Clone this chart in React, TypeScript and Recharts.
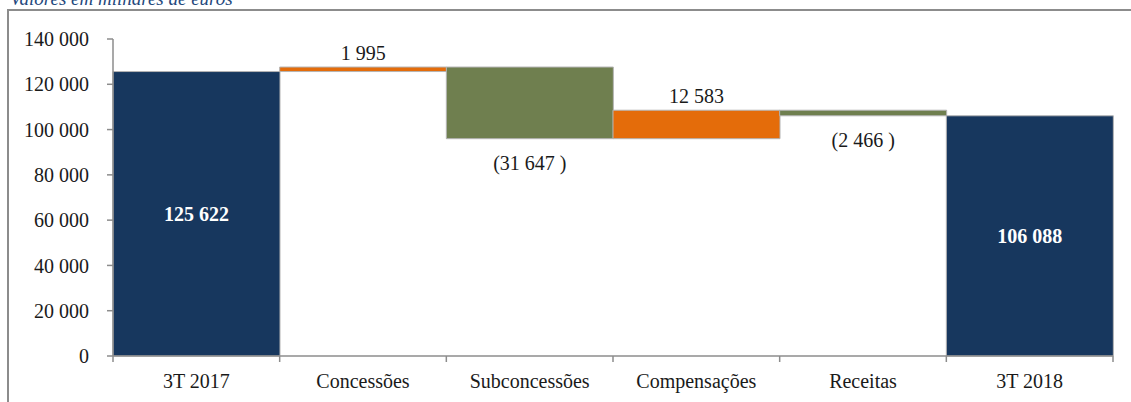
import { Bar, BarChart, Cell, LabelList, XAxis, YAxis } from "recharts";

const categories = ["3T 2017", "Concessões", "Subconcessões", "Compensações", "Receitas", "3T 2018"];
const values = [125622, 1995, -31647, 12583, -2466, 106088];
const isTotal = [true, false, false, false, false, true];
const yTicks = [0, 20000, 40000, 60000, 80000, 100000, 120000, 140000];

const COLORS = {
  total: "#17375E",
  up: "#E46C0A",
  down: "#6F7F4F",
  edge: "#b4b4b4",
  axis: "#8c8c8c",
  text: "#1a1a1a",
  title: "#1F497D",
};

const FONT = '"Liberation Serif", "DejaVu Serif", serif';

const fmt = (n: number) =>
  Math.round(n)
    .toString()
    .replace(/\B(?=(\d{3})+(?!\d))/g, " ");

// waterfall: invisible base + visible span, from the running total
let running = 0;
const data = categories.map((name, i) => {
  const v = values[i];
  if (isTotal[i]) {
    running = v;
    return { name, base: 0, span: v, value: v };
  }
  const start = running;
  running += v;
  return { name, base: Math.min(start, running), span: Math.abs(v), value: v };
});

const barColor = (i: number) =>
  isTotal[i] ? COLORS.total : values[i] >= 0 ? COLORS.up : COLORS.down;

function ValueLabel(props: any) {
  const vb = props.viewBox ?? props;
  const { x, y, width, height } = vb;
  const i = props.index;
  const v = values[i];
  const cx = x + width / 2;
  if (isTotal[i]) {
    return (
      <text
        x={cx}
        y={y + height / 2}
        textAnchor="middle"
        dominantBaseline="central"
        fill="#ffffff"
        fontWeight="bold"
        fontSize={20}
        fontFamily={FONT}
      >
        {fmt(v)}
      </text>
    );
  }
  const label = v >= 0 ? fmt(v) : `(${fmt(-v)} )`;
  return (
    <text
      x={cx}
      y={v >= 0 ? y - 7 : y + height + 31}
      textAnchor="middle"
      fill={COLORS.text}
      fontSize={20}
      fontFamily={FONT}
    >
      {label}
    </text>
  );
}

// category labels sit mid-band, tick marks go on the band edges
function CategoryTick(props: any) {
  const { x, y, payload, index, width, visibleTicksCount } = props;
  const band = width / visibleTicksCount;
  const left = x - band / 2;
  const right = x + band / 2;
  return (
    <g>
      <line x1={left} x2={left} y1={y} y2={y + 6} stroke={COLORS.axis} strokeWidth={1.5} />
      {index === visibleTicksCount - 1 && (
        <line x1={right} x2={right} y1={y} y2={y + 6} stroke={COLORS.axis} strokeWidth={1.5} />
      )}
      <text x={x} y={y + 32} textAnchor="middle" fill={COLORS.text} fontSize={20} fontFamily={FONT}>
        {payload.value}
      </text>
    </g>
  );
}

export default function App() {
  return (
    <div
      style={{
        position: "absolute",
        left: 0,
        top: 0,
        width: 1131,
        height: 402,
        background: "#ffffff",
        overflow: "hidden",
      }}
    >
      <div
        style={{
          position: "absolute",
          left: 10,
          top: -11,
          fontFamily: FONT,
          fontStyle: "italic",
          fontSize: 19,
          lineHeight: "19px",
          color: COLORS.title,
          whiteSpace: "nowrap",
        }}
      >
        Valores em milhares de euros
      </div>
      <div
        style={{
          position: "absolute",
          left: 7,
          top: 9,
          width: 1130,
          height: 400,
          borderTop: `2px solid ${COLORS.axis}`,
          borderLeft: `2px solid ${COLORS.axis}`,
        }}
      />
      <div style={{ position: "absolute", left: 0, top: 0 }}>
        <BarChart
          width={1131}
          height={402}
          data={data}
          margin={{ top: 39, right: 18, bottom: 6, left: 13 }}
          barCategoryGap={0}
          barGap={0}
        >
          <XAxis
            dataKey="name"
            height={40}
            axisLine={{ stroke: COLORS.axis, strokeWidth: 1.5 }}
            tickLine={false}
            tickSize={0}
            tickMargin={0}
            interval={0}
            tick={<CategoryTick />}
          />
          <YAxis
            width={100}
            domain={[0, 140000]}
            ticks={yTicks}
            tickFormatter={fmt}
            axisLine={{ stroke: COLORS.axis, strokeWidth: 1.5 }}
            tickLine={{ stroke: COLORS.axis, strokeWidth: 1.5 }}
            tickSize={6}
            tickMargin={18}
            tick={{ fill: COLORS.text, fontSize: 20, fontFamily: FONT }}
          />
          <Bar dataKey="base" stackId="w" fill="transparent" isAnimationActive={false} />
          <Bar
            dataKey="span"
            stackId="w"
            stroke={COLORS.edge}
            strokeWidth={1}
            isAnimationActive={false}
          >
            {data.map((d, i) => (
              <Cell key={d.name} fill={barColor(i)} />
            ))}
            <LabelList dataKey="value" content={<ValueLabel />} />
          </Bar>
        </BarChart>
      </div>
    </div>
  );
}
